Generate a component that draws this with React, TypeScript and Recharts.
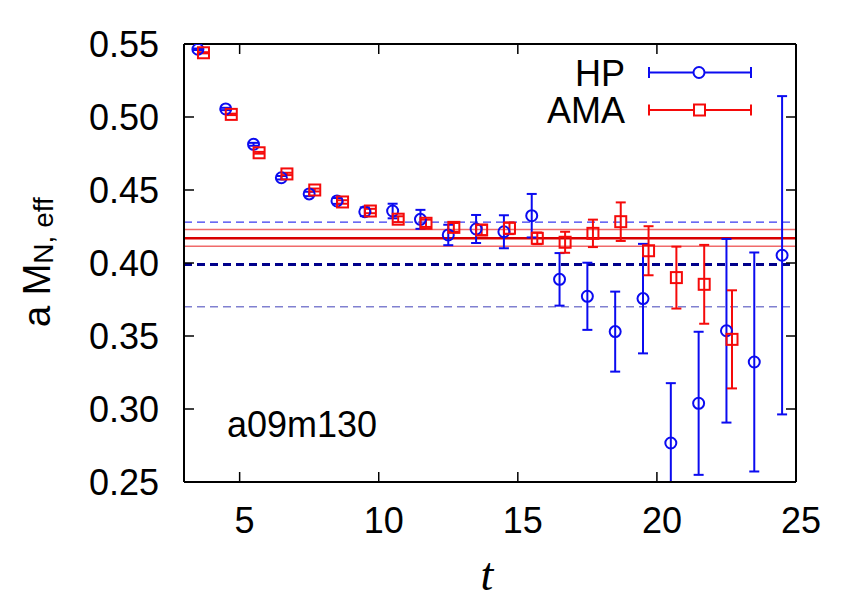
import {
  ComposedChart,
  Scatter,
  ErrorBar,
  XAxis,
  YAxis,
  ReferenceLine,
} from "recharts";

// HP points sit at t+0.5, AMA points at t+0.7 (shifted so they don't overlap)
const hpT = [3.5, 4.5, 5.5, 6.5, 7.5, 8.5, 9.5, 10.5, 11.5, 12.5, 13.5, 14.5, 15.5, 16.5, 17.5, 18.5, 19.5, 20.5, 21.5, 22.5, 23.5, 24.5];
const hpM = [0.5464, 0.5055, 0.4813, 0.4584, 0.4473, 0.4425, 0.4351, 0.4356, 0.4299, 0.4192, 0.4233, 0.4214, 0.4324, 0.3888, 0.3772, 0.353, 0.3756, 0.2767, 0.3039, 0.3536, 0.3322, 0.4053];
const hpErr: (number | [number, number])[] = [0.0005, 0.0008, 0.001, 0.0012, 0.0015, 0.002, 0.003, 0.005, 0.0065, 0.007, 0.0096, 0.0113, 0.0149, 0.018, 0.023, 0.0274, 0.0375, [0.0267, 0.041], 0.049, 0.0629, 0.075, 0.109];

const amaT = [3.7, 4.7, 5.7, 6.7, 7.7, 8.7, 9.7, 10.7, 11.7, 12.7, 13.7, 14.7, 15.7, 16.7, 17.7, 18.7, 19.7, 20.7, 21.7, 22.7];
const amaM = [0.544, 0.5018, 0.4755, 0.461, 0.45, 0.4418, 0.4356, 0.43, 0.4272, 0.4244, 0.4226, 0.4238, 0.4169, 0.4142, 0.4203, 0.4283, 0.4084, 0.39, 0.3854, 0.3477];
const amaErr = [0.0004, 0.0005, 0.0006, 0.0008, 0.001, 0.0012, 0.0015, 0.002, 0.0025, 0.003, 0.0035, 0.004, 0.004, 0.0072, 0.0094, 0.0132, 0.0168, 0.0212, 0.027, 0.0336];

// fit results
const hpFit = 0.399;
const hpBand = [0.37, 0.428];
const amaFit = 0.417;
const amaBand = [0.4115, 0.423];

const xTicks = [5, 10, 15, 20, 25];
const yTicks = [0.25, 0.3, 0.35, 0.4, 0.45, 0.5, 0.55];

const hpData = hpT.map((x, i) => ({ x, y: hpM[i], e: hpErr[i] }));
const amaData = amaT.map((x, i) => ({ x, y: amaM[i], e: amaErr[i] }));

const FONT = "'Liberation Sans', Arial, Helvetica, sans-serif";
const BLUE = "#0b0bf0";
const RED = "#f50a0a";

const BottomTick = (props: any) => {
  const { x, y, payload } = props;
  return (
    <g>
      <line x1={x} y1={y} x2={x} y2={y - 10} stroke="#000" strokeWidth={1.5} />
      <text x={x + 5} y={y + 51} textAnchor="middle" fontSize={36} fontFamily={FONT} fill="#000">
        {payload.value}
      </text>
    </g>
  );
};

const TopTick = (props: any) => {
  const { x, y } = props;
  return <line x1={x} y1={y} x2={x} y2={y + 10} stroke="#000" strokeWidth={1.5} />;
};

const LeftTick = (props: any) => {
  const { x, y, payload } = props;
  return (
    <g>
      <line x1={x} y1={y} x2={x + 10} y2={y} stroke="#000" strokeWidth={1.5} />
      <text x={x - 25} y={y + 13} textAnchor="end" fontSize={36} fontFamily={FONT} fill="#000">
        {Number(payload.value).toFixed(2)}
      </text>
    </g>
  );
};

const RightTick = (props: any) => {
  const { x, y } = props;
  return <line x1={x} y1={y} x2={x - 10} y2={y} stroke="#000" strokeWidth={1.5} />;
};

const Circle = (props: any) => {
  const { cx, cy } = props;
  return <circle cx={cx} cy={cy} r={5.5} fill="none" stroke={BLUE} strokeWidth={2} />;
};

const Square = (props: any) => {
  const { cx, cy } = props;
  return <rect x={cx - 5.5} y={cy - 5.5} width={11} height={11} fill="none" stroke={RED} strokeWidth={2} />;
};

const YLabel = () => (
  <text transform="translate(50, 327) rotate(-90)" fontFamily={FONT} fill="#000">
    <tspan fontSize={38}>a M</tspan>
    <tspan fontSize={28} dy={3}>N, eff</tspan>
  </text>
);

const axisLine = { stroke: "#000", strokeWidth: 2 };

export default function App() {
  return (
    <div style={{ position: "absolute", left: 0, top: 0, width: 864, height: 603, background: "#fff" }}>
      <ComposedChart width={864} height={603} margin={{ top: 43, right: 67, bottom: 61, left: 84 }}>
        <XAxis
          xAxisId="b"
          dataKey="x"
          type="number"
          domain={[3, 25]}
          ticks={xTicks}
          height={60}
          axisLine={axisLine}
          tickLine={false}
          tickSize={0}
          tickMargin={0}
          tick={<BottomTick />}
          interval={0}
          allowDataOverflow
        />
        <XAxis
          xAxisId="t"
          dataKey="x"
          orientation="top"
          type="number"
          domain={[3, 25]}
          ticks={xTicks}
          height={1}
          axisLine={axisLine}
          tickLine={false}
          tickSize={0}
          tickMargin={0}
          tick={<TopTick />}
          interval={0}
          allowDataOverflow
        />
        <YAxis
          yAxisId="l"
          dataKey="y"
          type="number"
          domain={[0.25, 0.55]}
          ticks={yTicks}
          width={100}
          axisLine={axisLine}
          tickLine={false}
          tickSize={0}
          tickMargin={0}
          tick={<LeftTick />}
          interval={0}
          allowDataOverflow
          label={{ content: <YLabel /> }}
        />
        <YAxis
          yAxisId="r"
          dataKey="y"
          orientation="right"
          type="number"
          domain={[0.25, 0.55]}
          ticks={yTicks}
          width={1}
          axisLine={axisLine}
          tickLine={false}
          tickSize={0}
          tickMargin={0}
          tick={<RightTick />}
          interval={0}
          allowDataOverflow
        />

        <ReferenceLine xAxisId="b" yAxisId="l" y={hpBand[1]} stroke="#3a3af0" strokeWidth={1.2} strokeDasharray="8 5" />
        <ReferenceLine xAxisId="b" yAxisId="l" y={hpBand[0]} stroke="#8080d0" strokeWidth={1.5} strokeDasharray="8 5" />
        <ReferenceLine xAxisId="b" yAxisId="l" y={amaBand[1]} stroke="#f06a6a" strokeWidth={1.5} />
        <ReferenceLine xAxisId="b" yAxisId="l" y={amaBand[0]} stroke="#f06a6a" strokeWidth={1.5} />
        <ReferenceLine xAxisId="b" yAxisId="l" y={amaFit} stroke="#d80000" strokeWidth={2.5} />
        <ReferenceLine xAxisId="b" yAxisId="l" y={hpFit} stroke="#00008b" strokeWidth={3} strokeDasharray="8 5" />

        <Scatter xAxisId="b" yAxisId="l" data={hpData} dataKey="y" shape={<Circle />} isAnimationActive={false}>
          <ErrorBar dataKey="e" direction="y" width={5} stroke={BLUE} strokeWidth={2} isAnimationActive={false} />
        </Scatter>
        <Scatter xAxisId="t" yAxisId="r" data={amaData} dataKey="y" shape={<Square />} isAnimationActive={false}>
          <ErrorBar dataKey="e" direction="y" width={5} stroke={RED} strokeWidth={2} isAnimationActive={false} />
        </Scatter>
      </ComposedChart>

      <svg width={864} height={603} style={{ position: "absolute", left: 0, top: 0, pointerEvents: "none" }}>
        <g fontFamily={FONT} fontSize={36} fill="#000">
          <text x={625} y={86} textAnchor="end">HP</text>
          <text x={625} y={123} textAnchor="end">AMA</text>
        </g>
        <g stroke={BLUE} strokeWidth={2} fill="none">
          <line x1={649} y1={72.5} x2={751} y2={72.5} />
          <line x1={649} y1={67} x2={649} y2={78} />
          <line x1={751} y1={67} x2={751} y2={78} />
          <circle cx={699} cy={72.5} r={5.5} fill="#fff" />
        </g>
        <g stroke={RED} strokeWidth={2} fill="none">
          <line x1={649} y1={110} x2={751} y2={110} />
          <line x1={649} y1={104.5} x2={649} y2={115.5} />
          <line x1={751} y1={104.5} x2={751} y2={115.5} />
          <rect x={694} y={104.5} width={11} height={11} fill="#fff" />
        </g>
        <text x={227} y={437} fontFamily={FONT} fontSize={36} fill="#000">a09m130</text>
        <text x={487} y={590} textAnchor="middle" fontFamily="'Liberation Serif', 'Times New Roman', serif" fontStyle="italic" fontSize={46} fill="#000">
          t
        </text>
      </svg>
    </div>
  );
}
